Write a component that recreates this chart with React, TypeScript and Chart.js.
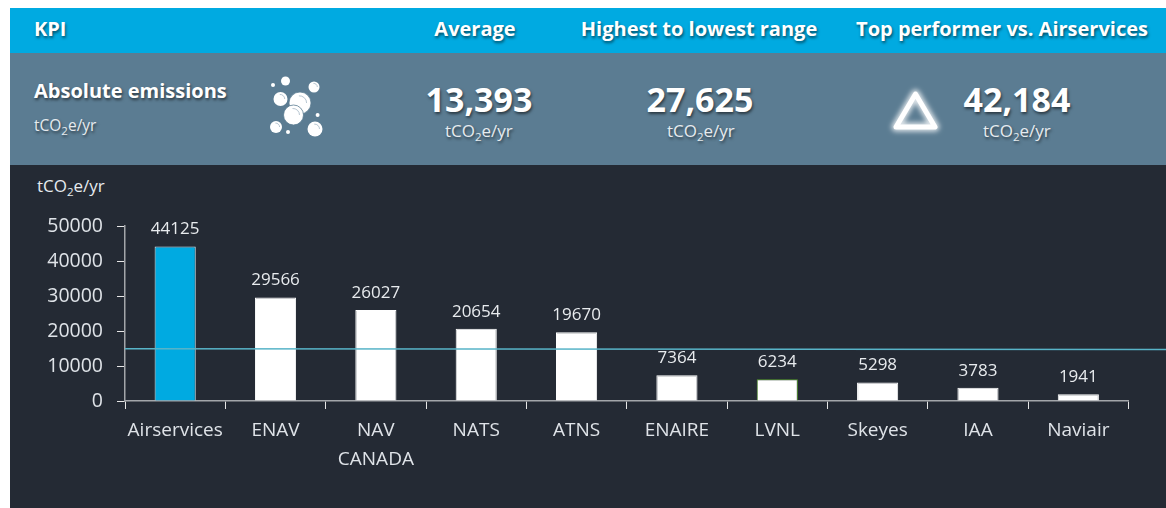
import React, { useEffect, useRef } from "react";
import { Chart, registerables } from "chart.js";

Chart.register(...registerables);

const categories = ["Airservices", "ENAV", ["NAV", "CANADA"], "NATS", "ATNS", "ENAIRE", "LVNL", "Skeyes", "IAA", "Naviair"];
const emissions = [44125, 29566, 26027, 20654, 19670, 7364, 6234, 5298, 3783, 1941];
const averageLine = [
  { x: 0, y: 14900 },
  { x: 10.38, y: 14700 },
];
const yTicks = [0, 10000, 20000, 30000, 40000, 50000];

const FONT = "'Open Sans', sans-serif";
const TEXT = "#dfe3e8";
const barFill = emissions.map((_, i) => (i === 0 ? "#00aae1" : "#ffffff"));
const barEdge = emissions.map((_, i) => (i === 0 ? "#dbeef5" : i === 6 ? "#5a9e2f" : "#ffffff"));

const valueLabels = {
  id: "valueLabels",
  afterDatasetsDraw(chart: any) {
    const { ctx } = chart;
    const meta = chart.getDatasetMeta(0);
    ctx.save();
    ctx.font = `17px ${FONT}`;
    ctx.fillStyle = "#e8ebee";
    ctx.textAlign = "center";
    ctx.textBaseline = "middle";
    meta.data.forEach((bar: any, i: number) => {
      ctx.fillText(String(emissions[i]), bar.x, bar.y - 17);
    });
    ctx.restore();
  },
};

const shadow = "1px 2px 3px rgba(0,0,0,0.55)";

function Unit({ style }: { style: React.CSSProperties }) {
  return (
    <div style={{ position: "absolute", fontSize: 17, lineHeight: "20px", color: "#e6ebef", whiteSpace: "nowrap", textShadow: shadow, ...style }}>
      tCO<sub style={{ fontSize: 11.5, lineHeight: 0 }}>2</sub>e/yr
    </div>
  );
}

function Centered({ x, y, size, bold, children }: any) {
  return (
    <div
      style={{
        position: "absolute",
        left: x - 200,
        width: 400,
        top: y - 25,
        height: 50,
        lineHeight: "50px",
        textAlign: "center",
        fontSize: size,
        fontWeight: bold ? 700 : 400,
        color: "#fff",
        whiteSpace: "nowrap",
        textShadow: shadow,
      }}
    >
      {children}
    </div>
  );
}

function Bubbles() {
  const bubbles = [
    [285.5, 81, 4.5], [314, 87, 5.5], [273, 85, 2], [280.5, 99, 7], [300, 103, 11],
    [293.5, 115, 10], [317.6, 115, 2], [276, 127, 6], [288, 132, 2], [315, 129, 7.5],
  ];
  return (
    <svg style={{ position: "absolute", left: 0, top: 0 }} width={1166} height={165}>
      {bubbles.map(([cx, cy, r], i) => (
        <g key={i}>
          <circle cx={cx} cy={cy} r={r} fill="#fff" stroke={r > 9 ? "#5b7c92" : "none"} strokeWidth={0.8} />
          {r > 5 && <path d={`M${cx - r * 0.1} ${cy - r * 0.65} A${r * 0.65} ${r * 0.65} 0 0 1 ${cx + r * 0.6} ${cy}`} fill="none" stroke="#a5b8c5" strokeWidth={0.8} />}
        </g>
      ))}
      <defs>
        <filter id="glow" x="-40%" y="-40%" width="180%" height="180%">
          <feGaussianBlur stdDeviation="2.5" />
        </filter>
      </defs>
      <path d="M915.5 94 L935 127 L896 127 Z" fill="none" stroke="#fff" strokeOpacity={0.8} strokeWidth={9} strokeLinejoin="round" filter="url(#glow)" />
      <path d="M915.5 94 L935 127 L896 127 Z" fill="none" stroke="#fff" strokeWidth={5} strokeLinejoin="round" />
    </svg>
  );
}

export default function App() {
  const ref = useRef<HTMLCanvasElement>(null);

  useEffect(() => {
    const chart = new Chart(ref.current!, {
      type: "bar",
      data: {
        labels: categories as any,
        datasets: [
          {
            type: "bar",
            data: emissions,
            backgroundColor: barFill,
            borderColor: barEdge,
            borderWidth: 1,
            barPercentage: 0.41,
            categoryPercentage: 1,
            grouped: false,
            order: 2,
          },
          {
            type: "line",
            data: averageLine as any,
            xAxisID: "x2",
            borderColor: "#58b4c8",
            borderWidth: 1.5,
            pointRadius: 0,
            clip: false as any,
            order: 1,
          },
        ],
      },
      options: {
        animation: false,
        responsive: false,
        maintainAspectRatio: false,
        layout: { padding: { left: 0, right: 37.5, top: 61, bottom: 0 } },
        plugins: { legend: { display: false }, tooltip: { enabled: false } },
        scales: {
          x: {
            offset: true,
            border: { color: "#a3a6aa", width: 1.5 },
            grid: { drawOnChartArea: false, tickLength: 8, tickColor: "#e6e6e6", tickWidth: 1, offset: true },
            ticks: { color: TEXT, font: { family: FONT, size: 19, lineHeight: 1.53 }, padding: 7, maxRotation: 0, minRotation: 0, autoSkip: false },
            afterFit: (s: any) => { s.height = 107; },
          },
          x2: { type: "linear", display: false, min: 0, max: 10, offset: false },
          y: {
            min: 0,
            max: 50000,
            afterBuildTicks: (s: any) => { s.ticks = yTicks.map((value) => ({ value })); },
            border: { color: "#a3a6aa", width: 1.5 },
            grid: { drawOnChartArea: false, tickLength: 8, tickColor: "#e6e6e6", tickWidth: 1 },
            ticks: { color: TEXT, font: { family: FONT, size: 19.5 }, padding: 14, callback: (v: any) => String(v) },
            afterFit: (s: any) => { s.width = 115; },
          },
        },
      } as any,
      plugins: [valueLabels],
    });
    return () => chart.destroy();
  }, []);

  return (
    <div style={{ position: "absolute", left: 0, top: 0, width: 1166, height: 508, background: "#fff", overflow: "hidden", fontFamily: FONT }}>
      <div style={{ position: "absolute", left: 10, top: 8, width: 1156, height: 45, background: "#00aae1" }} />
      <div style={{ position: "absolute", left: 10, top: 53, width: 1156, height: 112, background: "#5b7c92" }} />
      <div style={{ position: "absolute", left: 10, top: 165, width: 1156, height: 343, background: "#242a34" }} />

      <Bubbles />

      <div style={{ position: "absolute", left: 34, top: 14, height: 30, lineHeight: "30px", fontSize: 20, fontWeight: 700, color: "#fff", textShadow: shadow }}>KPI</div>
      <Centered x={475} y={29} size={20} bold>Average</Centered>
      <Centered x={699} y={29} size={20} bold>Highest to lowest range</Centered>
      <Centered x={1002} y={29} size={20} bold>Top performer vs. Airservices</Centered>

      <div style={{ position: "absolute", left: 34, top: 76, height: 30, lineHeight: "30px", fontSize: 20, fontWeight: 700, color: "#fff", whiteSpace: "nowrap", textShadow: shadow }}>Absolute emissions</div>
      <Unit style={{ left: 34, top: 115, fontSize: 15.5 }} />

      <Centered x={479} y={99} size={34} bold>13,393</Centered>
      <Unit style={{ left: 445, top: 121 }} />
      <Centered x={700} y={99} size={34} bold>27,625</Centered>
      <Unit style={{ left: 667, top: 121 }} />
      <Centered x={1017} y={99} size={34} bold>42,184</Centered>
      <Unit style={{ left: 983, top: 121 }} />

      <div style={{ position: "absolute", left: 37, top: 176, height: 20, lineHeight: "20px", fontSize: 17, color: "#e6ebef", whiteSpace: "nowrap" }}>
        tCO<sub style={{ fontSize: 11.5, lineHeight: 0 }}>2</sub>e/yr
      </div>

      <canvas ref={ref} width={1156} height={343} style={{ position: "absolute", left: 10, top: 165, width: 1156, height: 343 }} />
    </div>
  );
}
